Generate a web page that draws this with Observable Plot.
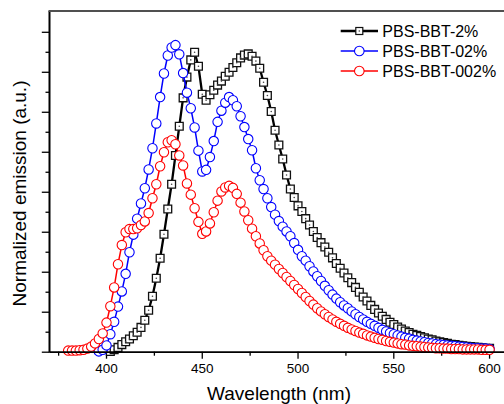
<!DOCTYPE html>
<html><head><meta charset="utf-8">
<script src="https://cdn.jsdelivr.net/npm/d3@7"></script>
<script src="https://cdn.jsdelivr.net/npm/@observablehq/plot@0.6"></script>
<style>body{margin:0;background:#fff;} #chart svg{display:block;}</style>
</head><body><div id="chart"></div>
<script>
// Wavelength grid (nm)
const wavelength = [
  380,382,384,386,388,390,392,394,396,398,
  400,402,404,406,408,410,412,414,416,418,
  420,422,424,426,428,430,432,434,436,438,
  440,442,444,446,448,450,452,454,456,458,
  460,462,464,466,468,470,472,474,476,478,
  480,482,484,486,488,490,492,494,496,498,
  500,502,504,506,508,510,512,514,516,518,
  520,522,524,526,528,530,532,534,536,538,
  540,542,544,546,548,550,552,554,556,558,
  560,562,564,566,568,570,572,574,576,578,
  580,582,584,586,588,590,592,594,596,598,
  600];

// PBS-BBT-2% (black squares)
const pbs2 = [
  null,null,null,null,null,null,null,null,null,null,
  null,0.02,0.06,0.12,0.19,0.26,0.33,0.41,0.50,0.62,
  0.80,1.05,1.40,1.85,2.35,2.95,3.58,4.20,4.92,5.65,
  6.36,6.88,7.31,7.50,7.15,6.45,6.30,6.44,6.55,6.68,
  6.78,6.90,7.00,7.12,7.24,7.36,7.43,7.46,7.40,7.28,
  7.10,6.75,6.42,6.02,5.55,5.18,4.83,4.43,4.08,3.87,
  3.66,3.52,3.34,3.18,3.02,2.87,2.74,2.63,2.50,2.36,
  2.22,2.10,1.98,1.86,1.74,1.62,1.50,1.38,1.28,1.17,
  1.07,0.98,0.90,0.82,0.75,0.69,0.63,0.58,0.53,0.49,
  0.45,0.42,0.39,0.36,0.33,0.31,0.28,0.26,0.24,0.22,
  0.20,0.19,0.17,0.16,0.15,0.14,0.13,0.12,0.11,0.10,
  0.10];

// PBS-BBT-02% (blue circles)
const pbs02 = [
  null,null,null,null,null,null,null,null,0.02,0.06,
  0.17,0.45,0.76,1.14,1.52,1.96,2.50,2.94,3.34,3.72,
  4.10,4.57,5.10,5.72,6.38,6.97,7.42,7.62,7.68,7.45,
  6.98,6.49,6.10,5.62,5.04,4.52,4.56,4.88,5.28,5.76,
  6.04,6.24,6.38,6.30,6.15,5.90,5.63,5.33,5.05,4.60,
  4.30,4.08,3.85,3.63,3.44,3.28,3.14,3.02,2.90,2.73,
  2.56,2.40,2.29,2.15,2.02,1.90,1.78,1.66,1.55,1.44,
  1.34,1.25,1.17,1.10,1.02,0.95,0.88,0.82,0.76,0.71,
  0.66,0.61,0.56,0.52,0.48,0.45,0.42,0.39,0.36,0.34,
  0.31,0.29,0.27,0.25,0.23,0.22,0.20,0.19,0.18,0.17,
  0.16,0.15,0.14,0.13,0.12,0.11,0.10,0.10,0.09,0.09,
  0.08];

// PBS-BBT-002% (red circles)
const pbs002 = [
  0.04,0.04,0.04,0.05,0.06,0.09,0.14,0.22,0.33,0.47,
  0.74,1.15,1.62,2.20,2.68,3.00,3.08,3.08,3.10,3.18,
  3.27,3.48,3.85,4.20,4.65,5.00,5.25,5.30,5.20,4.92,
  4.67,4.22,3.94,3.60,3.26,2.96,3.02,3.22,3.50,3.79,
  4.02,4.12,4.16,4.11,3.96,3.74,3.52,3.30,3.09,2.90,
  2.72,2.55,2.40,2.29,2.19,2.08,1.98,1.88,1.78,1.68,
  1.58,1.48,1.38,1.28,1.19,1.10,1.02,0.95,0.88,0.82,
  0.76,0.71,0.66,0.61,0.57,0.53,0.49,0.46,0.42,0.39,
  0.36,0.33,0.31,0.28,0.26,0.24,0.22,0.20,0.19,0.17,
  0.16,0.15,0.14,0.13,0.12,0.11,0.10,0.10,0.09,0.09,
  0.08,0.08,0.08,0.07,0.07,0.07,0.07,0.07,0.06,0.06,
  0.06];

const seriesNames = ["PBS-BBT-2%", "PBS-BBT-02%", "PBS-BBT-002%"];
const xMajorTicks = [400, 450, 500, 550, 600];
const xMinorTicks = [375, 425, 475, 525, 575];
const yMajorTicks = [0, 1, 2, 3, 4, 5, 6, 7, 8];
const yMinorTicks = [0.5, 1.5, 2.5, 3.5, 4.5, 5.5, 6.5, 7.5];
const xDomain = [370.5, 607.8];
const yDomain = [0, 8.52];

const rows = vals => wavelength.map((w, i) => ({w, v: vals[i]})).filter(d => d.v != null);
const sBlack = rows(pbs2), sBlue = rows(pbs02), sRed = rows(pbs002);

const FONT = "'Liberation Sans', Arial, sans-serif";
const blank = () => "";

const plot = Plot.plot({
  width: 504, height: 404,
  marginLeft: 49.5, marginRight: 0, marginTop: 11, marginBottom: 52.3,
  x: {domain: xDomain},
  y: {domain: yDomain},
  style: {fontFamily: FONT, background: "white", color: "black", overflow: "visible"},
  marks: [
    Plot.axisX({ticks: xMajorTicks, tickSize: 7, tickPadding: 4.5, fontSize: 13.5, strokeWidth: 1.3, label: null}),
    Plot.axisX({ticks: xMinorTicks, tickSize: 4, tickFormat: blank, strokeWidth: 1.3, label: null}),
    Plot.axisY({ticks: yMajorTicks, tickSize: 7.7, tickFormat: blank, strokeWidth: 1.3, label: null}),
    Plot.axisY({ticks: yMinorTicks, tickSize: 4, tickFormat: blank, strokeWidth: 1.3, label: null}),
    Plot.line(sBlack, {x: "w", y: "v", stroke: "black", strokeWidth: 2.3}),
    Plot.dot(sBlack, {x: "w", y: "v", symbol: "square", r: 4.4, fill: "white", stroke: "#111", strokeWidth: 1.3}),
    Plot.dot(sBlack, {x: "w", y: "v", r: 0.8, fill: "#444"}),
    Plot.line(sBlue, {x: "w", y: "v", stroke: "#0000ff", strokeWidth: 1.5}),
    Plot.dot(sBlue, {x: "w", y: "v", r: 4.7, fill: "white", stroke: "#0000ff", strokeWidth: 1.1}),
    Plot.line(sRed, {x: "w", y: "v", stroke: "#ff0000", strokeWidth: 1.5}),
    Plot.dot(sRed, {x: "w", y: "v", r: 4.7, fill: "white", stroke: "#ff0000", strokeWidth: 1.1}),
    Plot.ruleY([yDomain[0]], {stroke: "black", strokeWidth: 1.8})
  ]
});

const svg = d3.select(plot);
const xs = plot.scale("x"), ys = plot.scale("y");
const [x0, x1] = xs.range, [yb, yt] = ys.range;
// frame: left axis (black) and top border (dark grey)
svg.append("line").attr("x1", x0).attr("x2", x0).attr("y1", yt).attr("y2", yb + 0.9)
  .attr("stroke", "black").attr("stroke-width", 2);
svg.append("line").attr("x1", x0 - 1).attr("x2", x1).attr("y1", yt).attr("y2", yt)
  .attr("stroke", "#505050").attr("stroke-width", 2);

// axis titles
svg.append("text").text("Wavelength (nm)")
  .attr("x", 279).attr("y", 400.3).attr("text-anchor", "middle")
  .style("font-family", FONT).style("font-size", "19px").attr("fill", "black");
svg.append("text").text("Normalized emission (a.u.)")
  .attr("transform", "translate(26.3,193.5) rotate(-90)").attr("text-anchor", "middle")
  .style("font-family", FONT).style("font-size", "19px").attr("fill", "black");

// legend
const legendStyles = [
  {color: "black", width: 2.3, shape: "square"},
  {color: "#0000ff", width: 1.5, shape: "circle"},
  {color: "#ff0000", width: 1.5, shape: "circle"}
];
const lg = svg.append("g").attr("text-anchor", "start");
seriesNames.forEach((name, i) => {
  const y = 31 + i * 20, st = legendStyles[i];
  lg.append("line").attr("x1", 340.7).attr("x2", 378).attr("y1", y).attr("y2", y)
    .attr("stroke", st.color).attr("stroke-width", st.width);
  if (st.shape === "square") {
    lg.append("rect").attr("x", 359.3 - 3.5).attr("y", y - 3.5).attr("width", 7).attr("height", 7)
      .attr("fill", "white").attr("stroke", "#111").attr("stroke-width", 1.2);
    lg.append("circle").attr("cx", 359.3).attr("cy", y).attr("r", 0.8).attr("fill", "#444");
  } else {
    lg.append("circle").attr("cx", 359.3).attr("cy", y).attr("r", 4.8)
      .attr("fill", "white").attr("stroke", st.color).attr("stroke-width", 1.1);
  }
  lg.append("text").text(name).attr("x", 382.3).attr("y", y + 5.7).attr("text-anchor", "start")
    .style("font-family", FONT).style("font-size", "16px").attr("fill", "black");
});

document.getElementById("chart").appendChild(plot);
</script>
</body></html>
